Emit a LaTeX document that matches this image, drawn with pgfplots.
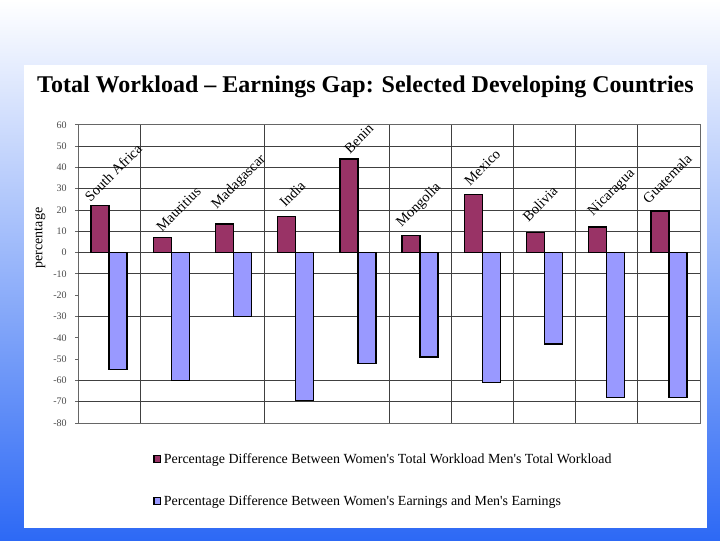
\documentclass[border=0pt]{standalone}
\usepackage{pgfplots}
\pgfplotsset{compat=1.18}
\usepackage{pgfplotstable}
\usepackage{fontspec}
\setmainfont{Liberation Serif}
\definecolor{plum}{RGB}{153,51,102}
\definecolor{peri}{RGB}{153,153,255}
\definecolor{bgblue}{RGB}{45,105,245}

\pgfplotstableread[col sep=comma]{
x,w,e
0,22,-55
1,7,-60
2,13.4,-30
3,17,-69.5
4,44,-52
5,8.1,-49
6,27.3,-61
7,9.3,-43
8,12.1,-68
9,19.5,-68
}\bars

\pgfplotstableread[col sep=comma]{
x,y,name
-0.30,23.5,South Africa
0.85,9.4,Mauritius
1.73,20.3,Madagascar
2.83,21,India
3.87,46.1,Benin
4.70,11.7,Mongolia
5.80,31.1,Mexico
6.74,14.1,Bolivia
7.78,17.0,Nicaragua
8.67,22.7,Guatemala
}\labels

\begin{document}
\begin{tikzpicture}
% background
\shade[top color=white, middle color=bgblue!20!white, bottom color=bgblue] (0,0) rectangle (540pt,405pt);
\fill[white] (18pt,9pt) rectangle (530.25pt,356.25pt);
\node[font=\fontsize{18}{20}\selectfont\bfseries, anchor=base] at (274.1pt,335.6pt) {Total Workload -- Earnings Gap: Selected Developing Countries};

\begin{axis}[
  at={(58.5pt,87.75pt)}, anchor=south west,
  scale only axis, width=466.5pt, height=223.7pt,
  xmin=-0.5, xmax=9.5, ymin=-80, ymax=60,
  clip=false,
  axis line style={black!60, line width=0.6pt},
  xtick={0.5,2.5,5.5,7.5}, xticklabels={},
  xmajorgrids, major x grid style={black!75, line width=0.6pt},
  extra x ticks={4.5,6.5,8.5}, extra x tick labels={},
  extra x tick style={xmajorgrids, major grid style={black!35, line width=0.6pt}, major tick length=0pt},
  ytick={-80,-70,...,60},
  extra y ticks={-70,-60,-30,-10,0,10,20,30,40,50}, extra y tick labels={},
  extra y tick style={ymajorgrids, major grid style={black!75, line width=0.6pt}},
  ytick pos=left, xtick pos=bottom,
  tick align=outside, major tick length=2pt,
  x tick style={draw=none},
  y tick style={black!60, line width=0.6pt},
  /pgf/number format/assume math mode=true,
  yticklabel style={font=\fontsize{7.5}{9}\selectfont, text=black!70, xshift=-3pt},
  ylabel={percentage},
  every axis y label/.style={at={(axis description cs:-0.0611,0.62)}, rotate=90, anchor=center, font=\fontsize{10.5}{12}\selectfont},
  legend style={draw=none, fill=none, at={(axis description cs:0.1206,-0.092)}, anchor=north west, font=\fontsize{10.45}{12}\selectfont, row sep=18.5pt, inner sep=0pt},
  legend cell align=left,
  legend image code/.code={\draw[#1, line width=1pt] (0pt,-2.6pt) rectangle (5pt,2.6pt);},
]
\addplot[ybar, bar width=13.5pt, bar shift=-6.75pt, fill=plum, draw=black, line width=1.1pt] table[x=x,y=w] {\bars};
\addlegendentry{Percentage Difference Between Women\textquotesingle s Total Workload Men\textquotesingle s Total Workload}
\addplot[ybar, bar width=13.5pt, bar shift=6.75pt, fill=peri, draw=black, line width=1.1pt] table[x=x,y=e] {\bars};
\addlegendentry{Percentage Difference Between Women\textquotesingle s Earnings and Men\textquotesingle s Earnings}
\addplot[draw=none, mark=none, forget plot, nodes near coords, point meta=explicit symbolic,
  every node near coord/.style={anchor=base west, rotate=45, inner sep=0pt, font=\fontsize{10.8}{12}\selectfont}]
  table[x=x,y=y,meta=name] {\labels};
\end{axis}
\pgfresetboundingbox
\useasboundingbox (0,0) rectangle (540pt,405pt);
\end{tikzpicture}
\end{document}
